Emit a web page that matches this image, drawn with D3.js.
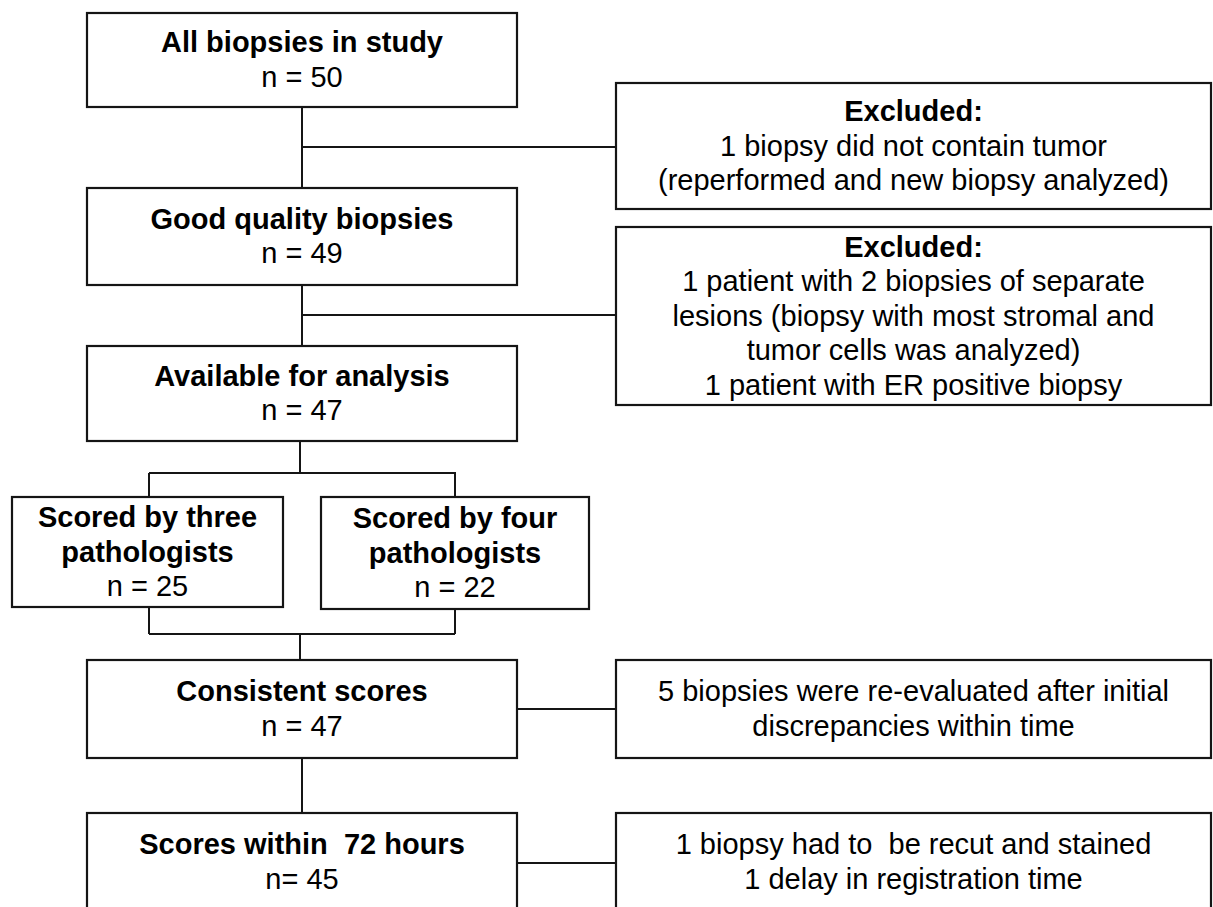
<!DOCTYPE html>
<html>
<head>
<meta charset="utf-8">
<script src="https://cdn.jsdelivr.net/npm/d3@7"></script>
<style>
  html, body { margin: 0; padding: 0; background: #fff; }
  svg { display: block; }
</style>
</head>
<body>
<script>
// flow chart text and counts
var stageTitles = ["All biopsies in study", "Good quality biopsies", "Available for analysis",
    "Consistent scores", "Scores within  72 hours"];
var stageCounts = [50, 49, 47, 47, 45];
var stageCountFormat = ["n = ", "n = ", "n = ", "n = ", "n= "];

var splitTitles = [["Scored by three", "pathologists"], ["Scored by four", "pathologists"]];
var splitCounts = [25, 22];

var sideHeads = ["Excluded:", "Excluded:", null, null];
var sideLines = [
    ["1 biopsy did not contain tumor", "(reperformed and new biopsy analyzed)"],
    ["1 patient with 2 biopsies of separate", "lesions (biopsy with most stromal and",
        "tumor cells was analyzed)", "1 patient with ER positive biopsy"],
    ["5 biopsies were re-evaluated after initial", "discrepancies within time"],
    ["1 biopsy had to  be recut and stained", "1 delay in registration time"]
];

//Width and height
var w = 1213;
var h = 907;
var fontSize = 29;
var lineH = 34.5;
var ink = "#151515";

// layout: main column, side column, rows
var mainX = 87, mainW = 430;
var sideX = 616, sideW = 595;
var mainRows = [[13, 107], [188, 285], [346, 441], [660, 758], [813, 911]];
var sideRows = [[83, 209], [227, 405], [660, 758], [813, 911]];
var sideLink = [0, 1, 3, 4];            // which main row each side box hangs off
var sideLinkY = [147, 315, 709, 863];
var splitBoxes = [[12, 283, 497, 607], [321, 589, 497, 609]];

var boxes = [];
stageTitles.forEach(function (t, i) {
    boxes.push({
        x0: mainX, x1: mainX + mainW, y0: mainRows[i][0], y1: mainRows[i][1],
        lines: [{ text: t, bold: true }, { text: stageCountFormat[i] + stageCounts[i], bold: false }]
    });
});
splitTitles.forEach(function (t, i) {
    var b = splitBoxes[i];
    boxes.push({
        x0: b[0], x1: b[1], y0: b[2], y1: b[3],
        lines: t.map(function (s) { return { text: s, bold: true }; })
            .concat([{ text: "n = " + splitCounts[i], bold: false }])
    });
});
sideLines.forEach(function (ls, i) {
    var lines = [];
    if (sideHeads[i]) lines.push({ text: sideHeads[i], bold: true });
    ls.forEach(function (s) { lines.push({ text: s, bold: false }); });
    boxes.push({ x0: sideX, x1: sideX + sideW, y0: sideRows[i][0], y1: sideRows[i][1], lines: lines });
});

//Create SVG element
var svg = d3.select("body")
    .append("svg")
    .attr("width", w)
    .attr("height", h);

// connectors
var cx = 302;
var links = [
    [[cx, mainRows[0][1]], [cx, mainRows[1][0]]],
    [[cx, mainRows[1][1]], [cx, mainRows[2][0]]],
    [[300, mainRows[2][1]], [300, 473]],
    [[149, 473], [455, 473]],
    [[149, 473], [149, 497]],
    [[455, 472], [455, 497]],
    [[149, 607], [149, 634]],
    [[455, 609], [455, 634]],
    [[149, 634], [455, 634]],
    [[300, 634], [300, mainRows[3][0]]],
    [[cx, mainRows[3][1]], [cx, mainRows[4][0]]]
];
sideLink.forEach(function (r, i) {
    var xStart = (r < 2) ? cx : mainX + mainW;
    links.push([[xStart, sideLinkY[i]], [sideX, sideLinkY[i]]]);
});

var line = d3.line();
svg.selectAll("path.link")
    .data(links)
    .enter()
    .append("path")
    .attr("class", "link")
    .attr("d", d => line(d))
    .attr("fill", "none")
    .attr("stroke", ink)
    .attr("stroke-width", 2);

// boxes
var g = svg.selectAll("g.box")
    .data(boxes)
    .enter()
    .append("g")
    .attr("class", "box");

g.append("rect")
    .attr("x", d => d.x0)
    .attr("y", d => d.y0)
    .attr("width", d => d.x1 - d.x0)
    .attr("height", d => d.y1 - d.y0)
    .attr("fill", "#fff")
    .attr("stroke", ink)
    .attr("stroke-width", 2.2);

g.each(function (d) {
    var n = d.lines.length;
    var mid = (d.y0 + d.y1) / 2;
    d3.select(this).selectAll("text")
        .data(d.lines)
        .enter()
        .append("text")
        .text(l => l.text)
        .attr("x", (d.x0 + d.x1) / 2)
        .attr("y", (l, i) => mid + (i - (n - 1) / 2) * lineH + 9.5)
        .attr("text-anchor", "middle")
        .attr("font-family", "'Liberation Sans', Arial, Helvetica, sans-serif")
        .attr("font-size", fontSize + "px")
        .attr("font-weight", l => l.bold ? "bold" : "normal")
        .style("white-space", "pre")
        .attr("fill", "#000");
});
</script>
</body>
</html>
